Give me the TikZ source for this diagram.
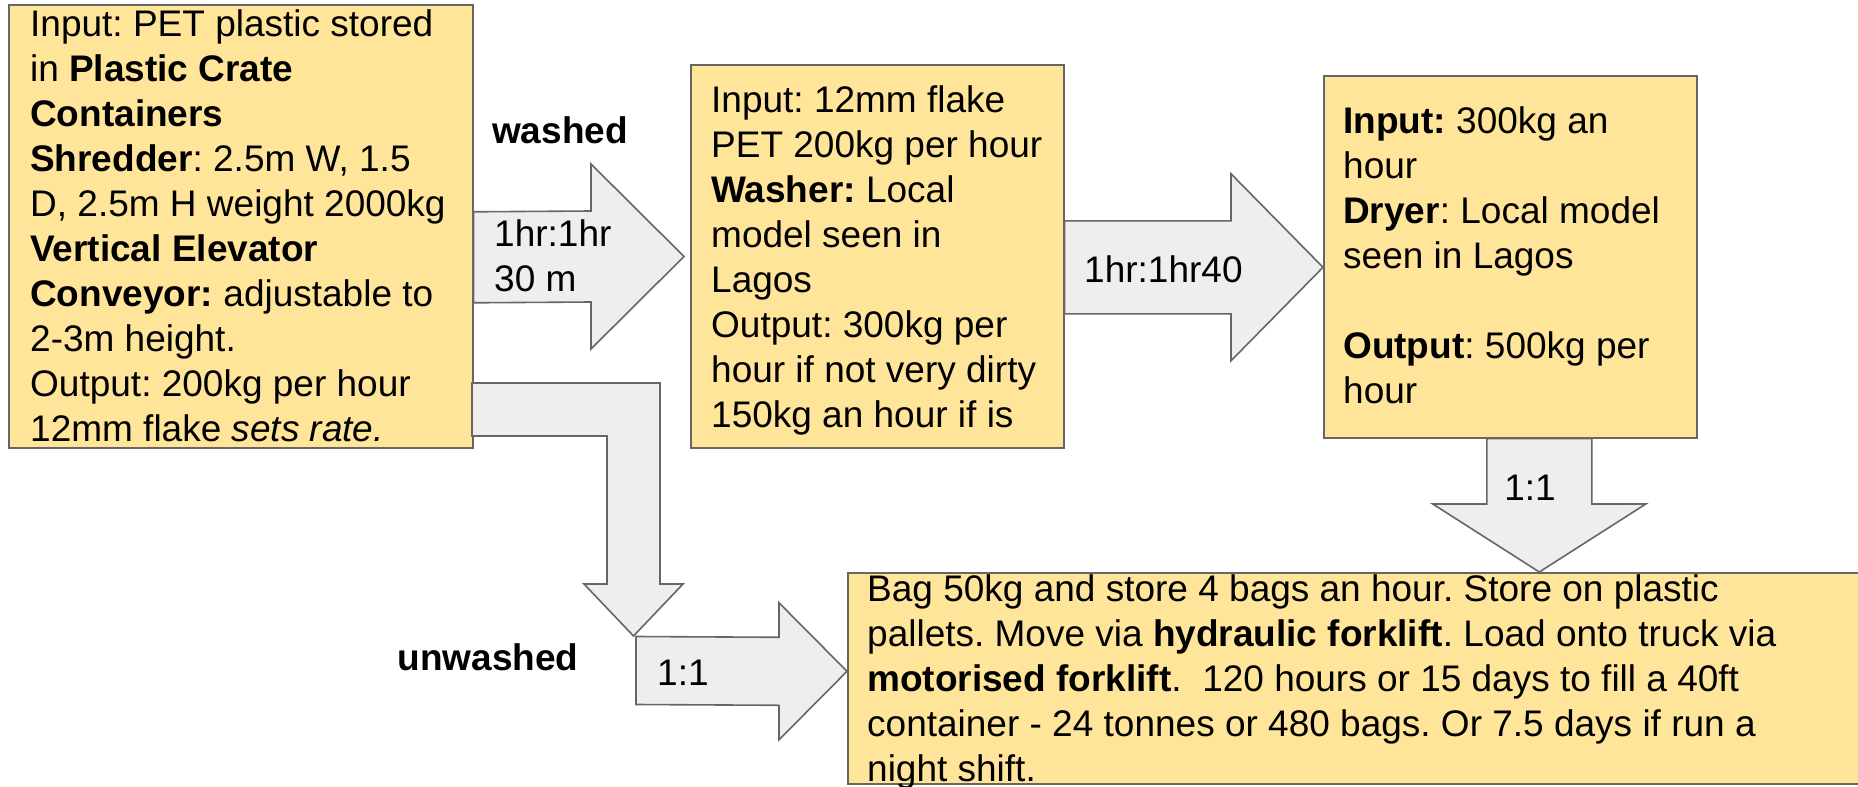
\documentclass[tikz,border=0pt]{standalone}
\usepackage{fontspec}
\setmainfont{Liberation Sans}
\usetikzlibrary{calc}
\frenchspacing
\definecolor{boxfill}{HTML}{FFE599}
\definecolor{edgegray}{HTML}{666666}
\definecolor{arrfill}{HTML}{EEEEEE}
\tikzset{
  box/.style={draw=edgegray, fill=boxfill, line width=1.6pt, inner sep=0pt, anchor=north west},
  txt/.style={inner sep=0pt, align=left, font=\fontsize{37}{45}\selectfont, anchor=west, text=black},
  lbl/.style={inner sep=0pt, font=\fontsize{37}{45}\selectfont, text=black},
  barrow/.style={draw=edgegray, fill=arrfill, line width=1.6pt, line join=miter},
}
\newcommand{\rblock}[5]{%
  \draw[barrow] ($(#1)+(0,-#3)$) -- ($(#2)+(-#5,-#3)$) -- ($(#2)+(-#5,-#4)$) -- (#2)
    -- ($(#2)+(-#5,#4)$) -- ($(#2)+(-#5,#3)$) -- ($(#1)+(0,#3)$) -- cycle;}
\newcommand{\dblock}[5]{%
  \draw[barrow] ($(#1)+(-#3,0)$) -- ($(#2)+(-#3,-#5)$) -- ($(#2)+(-#4,-#5)$) -- (#2)
    -- ($(#2)+(#4,-#5)$) -- ($(#2)+(#3,-#5)$) -- ($(#1)+(#3,0)$) -- cycle;}
\begin{document}
\begin{tikzpicture}[x=1pt,y=-1pt]
\useasboundingbox (0,0) rectangle (1858,787);
\clip (0,0) rectangle (1858,787);

% boxes
\node[box, minimum width=464pt, minimum height=443pt] (b1) at (8,4) {};
\node[box, minimum width=373pt, minimum height=383pt] (b2) at (690,64) {};
\node[box, minimum width=373pt, minimum height=362pt] (b3) at (1323,75) {};
\node[box, minimum width=1060pt, minimum height=211pt] (b4) at (847,572) {};

% connector end points
\coordinate (a1s) at ([yshift=-31pt]b1.east);
\coordinate (a1e) at (684,256.5);
\coordinate (a2s) at ([yshift=-11pt]b2.east);
\coordinate (a2e) at ([yshift=-10.5pt]b3.west);
\coordinate (a3s) at ([xshift=29pt]b3.south);
\coordinate (a3e) at (a3s |- b4.north);
\coordinate (a4s) at (636,670.5);
\coordinate (a4e) at ([yshift=7pt]b4.west);
\coordinate (a5s) at (472,409.5);
\coordinate (a5e) at (633.5,636);

% block arrows
\rblock{a1s}{a1e}{45.5}{92.5}{93}
\rblock{a2s}{a2e}{46.5}{93.5}{92}
\dblock{a3s}{a3e}{52.5}{106.5}{68}
\draw[barrow] ($(a5s)+(0,-26.5)$) -- ($(a5e |- a5s)+(26.5,-26.5)$) -- ($(a5e)+(26.5,-52)$)
  -- ($(a5e)+(49.5,-52)$) -- (a5e) -- ($(a5e)+(-49.5,-52)$) -- ($(a5e)+(-26.5,-52)$)
  -- ($(a5e |- a5s)+(-26.5,26.5)$) -- ($(a5s)+(0,26.5)$) -- cycle;
\rblock{a4s}{a4e}{34}{68.5}{68}

% box texts
\node[txt] (t1) at (30,230) {\strut Input: PET plastic stored\\
in \textbf{Plastic Crate}\\
\textbf{Containers}\\
\textbf{Shredder}: 2.5m W, 1.5\\
D, 2.5m H weight 2000kg\\
\textbf{Vertical Elevator}\\
\textbf{Conveyor:} adjustable to\\
2-3m height.\\
Output: 200kg per hour\\
12mm flake \textit{sets rate.}\strut};

\node[txt] (t2) at (711,261) {\strut Input: 12mm flake\\
PET 200kg per hour\\
\textbf{Washer:} Local\\
model seen in\\
Lagos\\
Output: 300kg per\\
hour if not very dirty\\
150kg an hour if is\strut};

\node[txt] (t3) at (1343,259) {\strut\textbf{Input:} 300kg an\\
hour\\
\textbf{Dryer}: Local model\\
seen in Lagos\\
\strut\\
\textbf{Output}: 500kg per\\
hour\strut};

\node[txt] (t4) at (867,682) {\strut Bag 50kg and store 4 bags an hour. Store on plastic\\
pallets. Move via \textbf{hydraulic forklift}. Load onto truck via\\
\textbf{motorised forklift}.\ \ 120 hours or 15 days to fill a 40ft\\
container - 24 tonnes or 480 bags. Or 7.5 days if run a\\
night shift.\strut};

% arrow labels
\node[lbl, font=\fontsize{37}{45}\selectfont\bfseries] (lw) at (560,130) {washed};
\node[txt] (l1) at (494,260) {\strut 1hr:1hr\\30 m\strut};
\node[lbl, anchor=west] (l2) at (1084,269) {1hr:1hr40};
\node[lbl] (l3) at (1530,488) {1:1};
\node[lbl, font=\fontsize{37}{45}\selectfont\bfseries] (lu) at (488,657) {unwashed};
\node[lbl, anchor=west] (l4) at (657,673) {1:1};
\end{tikzpicture}
\end{document}
